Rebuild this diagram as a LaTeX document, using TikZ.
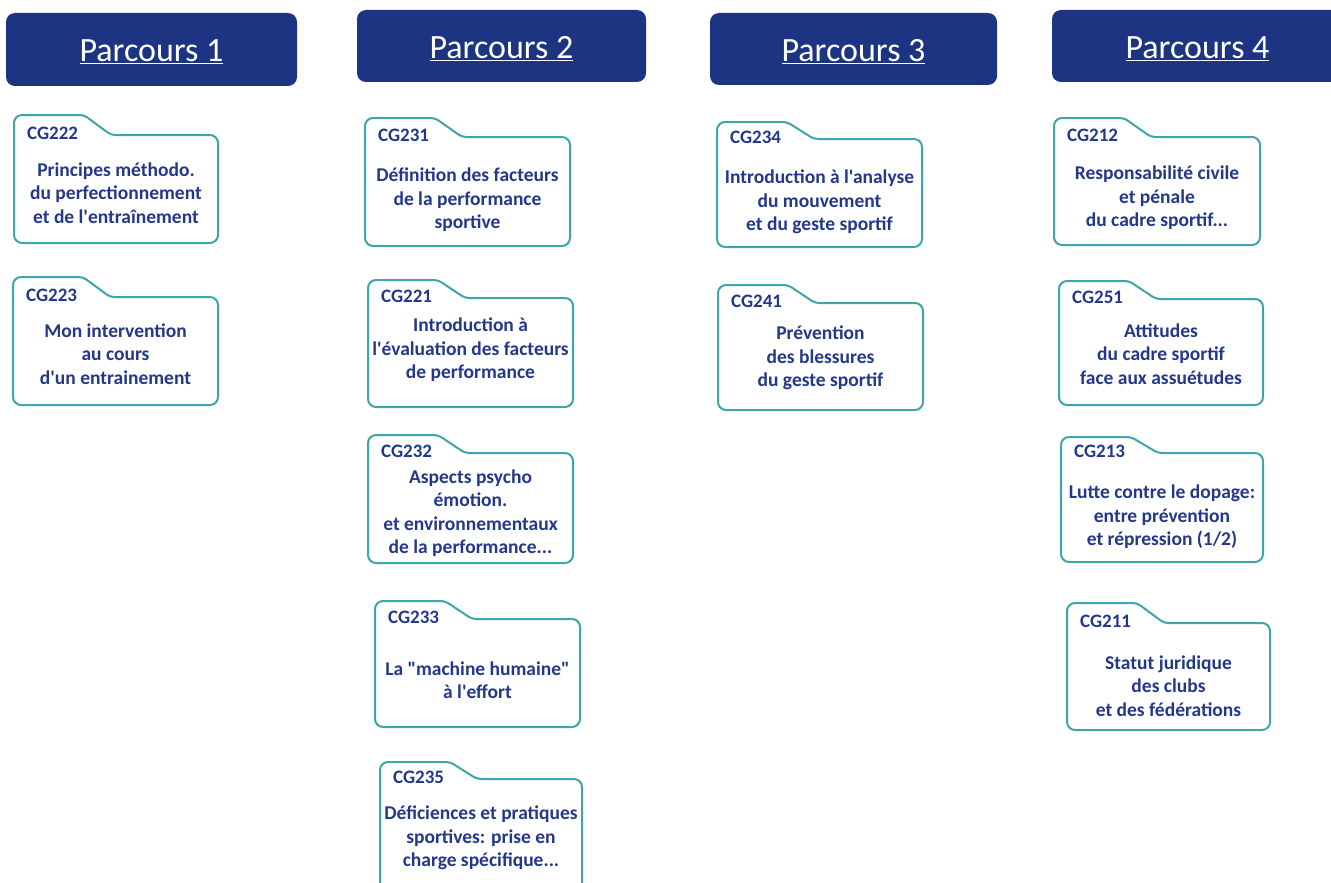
\documentclass[tikz,border=0pt]{standalone}
\usepackage{fontspec}
\setmainfont{Carlito}[Ligatures=TeXOff]
\definecolor{hdr}{RGB}{28,52,129}
\definecolor{cardedge}{RGB}{62,166,168}
\definecolor{ink}{RGB}{36,56,138}
\tikzset{
  header/.style={fill=hdr, rounded corners=9pt, inner sep=0},
  htext/.style={text=white, font=\fontsize{34}{40}\selectfont, anchor=base, inner sep=0},
  cardline/.style={draw=cardedge, line width=2pt, fill=white},
  code/.style={text=ink, font=\bfseries\fontsize{19}{22}\selectfont, anchor=west, inner sep=0},
  cardtext/.style={text=ink, font=\bfseries\fontsize{19.5}{23.5}\selectfont, align=center, inner sep=0},
}
% id x0 ytab ybody x1 ybot cy code text
\newcommand\card[9]{%
  \draw[cardline, rounded corners=8pt] (#2,#6) -- (#2,#3) [rounded corners=4pt] -- (#2+70,#3) -- (#2+97,#4) [rounded corners=8pt] -- (#5,#4) -- (#5,#6) -- cycle;
  \node[code] (#1c) at (#2+13,#4-1.5) {#8};
  \node[cardtext] (#1) at ({(#2+#5)/2},#7) {#9};
}
% id x0 y0 x1 y1 baseline text
\newcommand\hdrbox[7]{%
  \node[header, minimum width={(#4-#2)*1pt}, minimum height={(#5-#3)*1pt}] (#1) at ({(#2+#4)/2},{(#3+#5)/2}) {};
  \node[htext] (#1t) at ({(#2+#4)/2},#6) {\underline{#7}};
}
\begin{document}
\begin{tikzpicture}[x=1pt,y=-1pt]
\useasboundingbox (0,0) rectangle (1331,883);
\clip (0,0) rectangle (1331,883);
\hdrbox{h1}{6}{13}{297}{86}{62}{Parcours 1}
\hdrbox{h2}{357}{10}{646}{82}{59}{Parcours 2}
\hdrbox{h3}{710}{13}{997}{85}{62}{Parcours 3}
\hdrbox{h4}{1052}{10}{1343}{82}{59}{Parcours 4}

\card{cg222}{14}{115}{135}{218}{243}{193}{CG222}{Principes méthodo.\\du perfectionnement\\et de l'entraînement}
\card{cg223}{13}{277}{297}{218}{405}{354}{CG223}{Mon intervention\\au cours\\d'un entrainement}

\card{cg231}{365}{118}{137}{570}{246}{200}{CG231}{Définition des facteurs\\de la performance\\sportive}
\card{cg221}{368}{280}{298}{573}{407}{350}{CG221}{Introduction à\\l'évaluation des facteurs\\de performance}
\card{cg232}{368}{435}{453}{573}{563}{513}{CG232}{Aspects psycho\\émotion.\\et environnementaux\\de la performance...}
\card{cg233}{375}{601}{619}{580}{727}{680}{CG233}{La "machine humaine"\\à l'effort}
\card{cg235}{380}{762}{779}{582}{895}{838}{CG235}{Déficiences et pratiques\\sportives: prise en\\charge spécifique...}

\card{cg234}{717}{122}{139}{922}{247}{202}{CG234}{Introduction à l'analyse\\du mouvement\\et du geste sportif}
\card{cg241}{718}{285}{303}{923}{410}{358}{CG241}{Prévention\\des blessures\\du geste sportif}

\card{cg212}{1054}{118}{137}{1260}{245}{198}{CG212}{Responsabilité civile\\et pénale\\du cadre sportif...}
\card{cg251}{1059}{281}{299}{1263}{405}{354}{CG251}{Attitudes\\du cadre sportif\\face aux assuétudes}
\card{cg213}{1061}{437}{453}{1263}{562}{517}{CG213}{Lutte contre le dopage:\\entre prévention\\et répression (1/2)}
\card{cg211}{1067}{603}{623}{1270}{730}{686}{CG211}{Statut juridique\\des clubs\\et des fédérations}
\end{tikzpicture}
\end{document}
